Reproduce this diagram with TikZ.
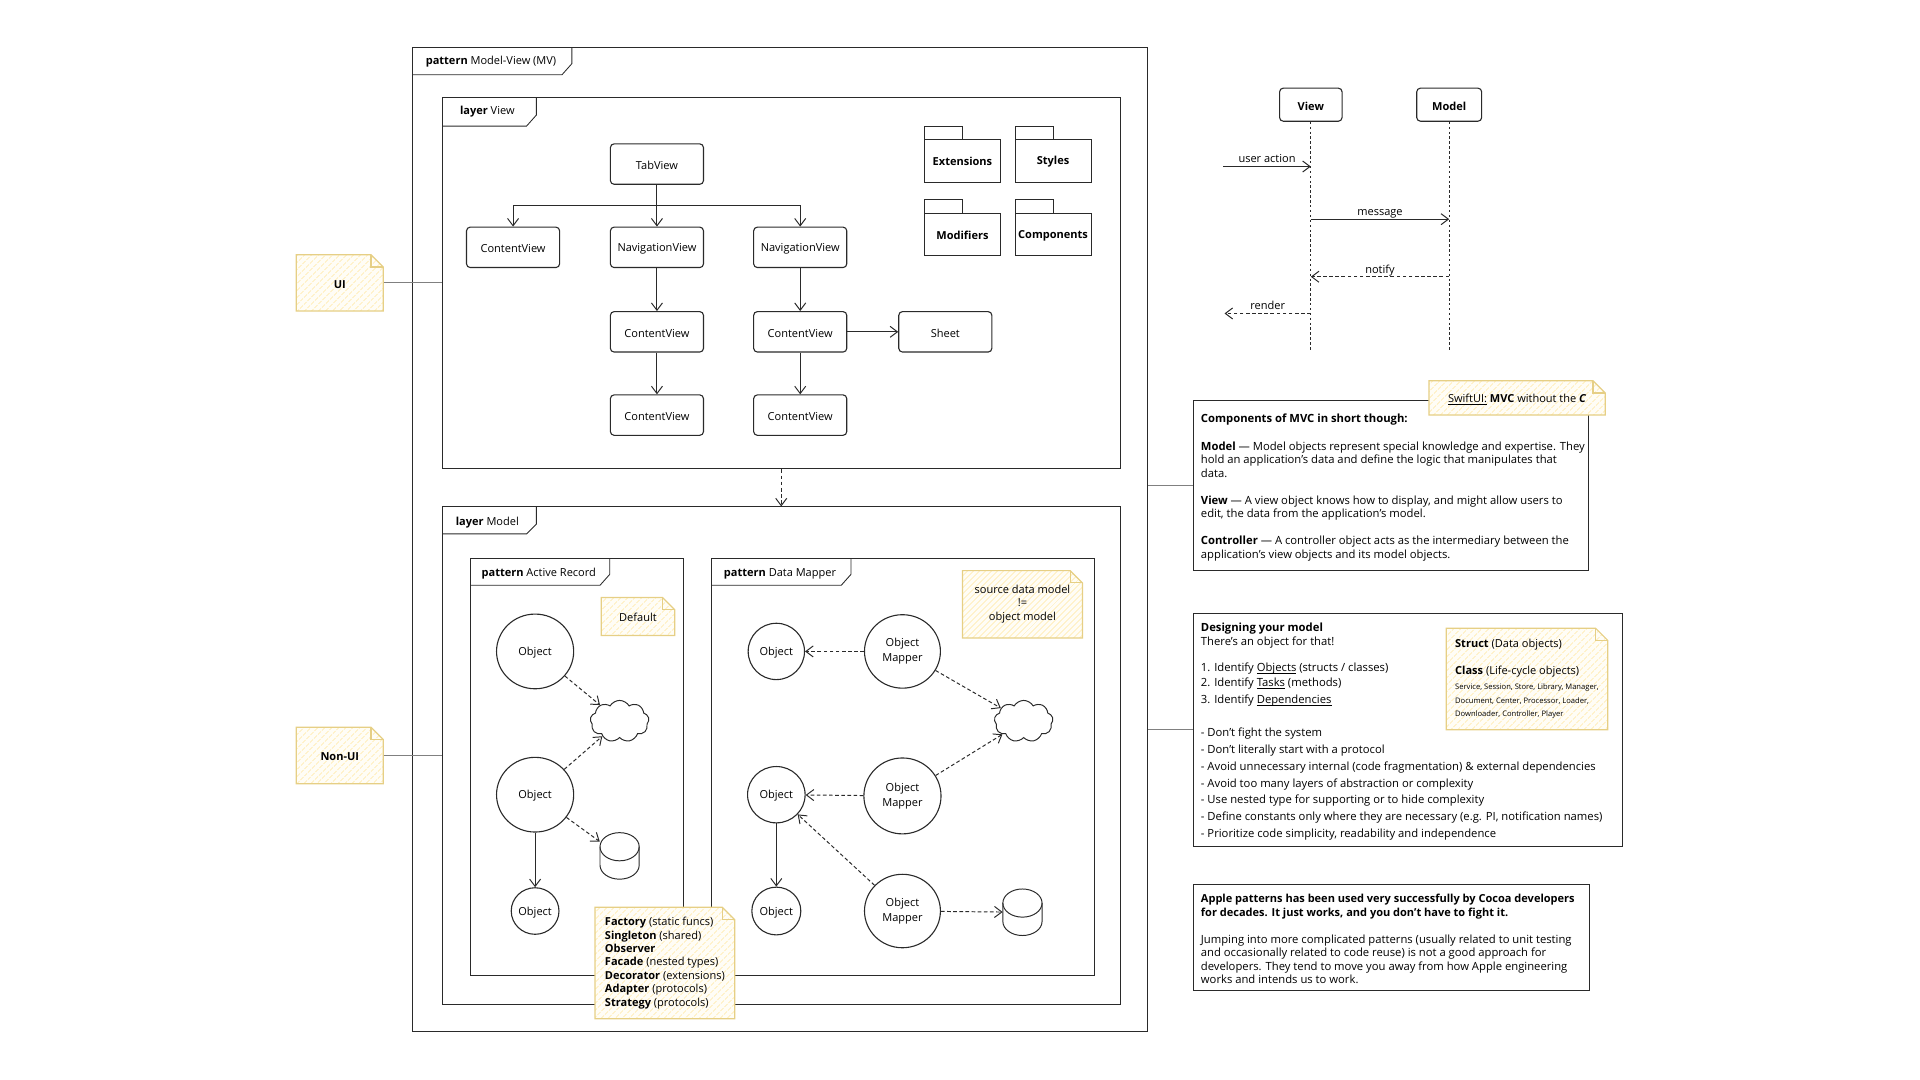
\documentclass[tikz,border=0pt]{standalone}
\usepackage{fontspec}
\setmainfont{Open Sans}
\usetikzlibrary{arrows.meta,calc,patterns.meta,positioning,shapes.geometric,shapes.symbols}
\definecolor{notefill}{HTML}{FFFDF6}
\definecolor{notehatch}{HTML}{FFF2CC}
\definecolor{noteline}{HTML}{E6CF85}
\definecolor{inkline}{HTML}{2A2A2A}
\newcommand\tinyfont{\fontsize{6.2}{10.5}\selectfont}
\newcommand\ulword[1]{\underline{\smash{#1}}}
\newcommand\leadline[1]{{\fontsize{9}{11}\selectfont\textbf{#1}}}
\tikzset{
  basetext/.style={font=\fontsize{9}{11}\selectfont,text=black,execute at begin node={\rule{0pt}{9pt}}},
  frame/.style={draw=inkline,line width=0.8pt,inner sep=0pt},
  framepath/.style={draw=inkline,line width=0.7pt},
  viewbox/.style={draw=inkline,line width=0.9pt,rounded corners=3pt,minimum width=76pt,minimum height=33pt,inner sep=0pt,basetext},
  lifebox/.style={viewbox,font=\fontsize{9}{11}\selectfont\bfseries,minimum height=27pt},
  object/.style={draw=inkline,line width=0.9pt,ellipse,inner sep=0pt,basetext,align=center},
  infocloud/.style={draw=inkline,line width=0.8pt,cloud,cloud puffs=9,cloud puff arc=120,aspect=1.4,minimum width=48pt,minimum height=34pt,inner sep=0pt},
  textbox/.style={draw=inkline,line width=0.9pt,inner sep=0pt},
  longtext/.style={font=\fontsize{9.2}{11}\selectfont,text=black,anchor=west,align=left,inner sep=0pt,yshift=-1.5pt},
  seqlabel/.style={basetext,above=0pt,inner sep=1pt,text depth=1.5pt},
  call/.style={inkline,line width=0.8pt,-{Straight Barb[length=6pt,width=9pt]}},
  depend/.style={call,dash pattern=on 3pt off 2pt},
  link/.style={gray,line width=0.6pt},
  life/.style={inkline,line width=0.8pt,dash pattern=on 2pt off 2pt},
  notepath/.style={draw=noteline,line width=1pt,preaction={fill=notefill},pattern={Lines[angle=45,distance=4pt,line width=1.2pt]},pattern color=notehatch},
  folder/.style={draw=inkline,line width=0.8pt},
  datastore/.style={draw=inkline,line width=0.8pt},
}
\newcommand\stickynote[6]{
\path[notepath] (#2,#3) -- ({#4-10},#3) -- (#4,{#3+10}) -- (#4,#5) -- (#2,#5) -- cycle;
\draw[draw=noteline,line width=1pt] ({#4-10},#3) -- ({#4-10},{#3+10}) -- (#4,{#3+10});
\node[basetext,align=left,inner sep=0pt,minimum width={(#4-#2)*1pt},minimum height={(#5-#3)*1pt}] (#1) at ({(#2+#4)/2},{(#3+#5)/2}) {#6};
}
\newcommand\folderbox[4]{
\draw[folder] (#2,{#3+11}) rectangle ({#2+62},{#3+46});
\draw[folder] (#2,{#3+11}) -- (#2,#3) -- ({#2+31},#3) -- ({#2+31},{#3+11});
\node[basetext,font=\fontsize{9}{11}\selectfont\bfseries,inner sep=0pt] (#1) at ({#2+31},{#3+28}) {#4};
}
\newcommand\datacan[3]{
\node[inner sep=0pt,minimum width=32pt,minimum height=38pt] (#1) at (#2,#3) {};
\draw[datastore] (#2,{#3-7.5}) ellipse [x radius=16pt,y radius=11.5pt];
\draw[datastore] ({#2-16},{#3-7.5}) -- ({#2-16},{#3+7.5}) arc [start angle=180,end angle=360,x radius=16pt,y radius=11.5pt] -- ({#2+16},{#3-7.5});
}
\begin{document}
\begin{tikzpicture}[x=1pt,y=-1pt]
\useasboundingbox (0,0) rectangle (1568,882);
% outer pattern and the two layers
\node[frame,minimum width=600pt,minimum height=803pt] (mvframe) at (637,440.5) {};
\draw[framepath] (337,61) -- (459,61) -- (467,52) -- (467,39);
\node[basetext] (mvtitle) at (401,49) {\textbf{pattern} Model-View (MV)};
\node[frame,minimum width=554pt,minimum height=303pt] (layerview) at (638,231.5) {};
\draw[framepath] (361,103) -- (430,103) -- (438,94) -- (438,80);
\node[basetext] (viewtitle) at (398,90) {\textbf{layer} View};
\node[frame,minimum width=554pt,minimum height=406pt] (layermodel) at (638,617) {};
\draw[framepath] (361,436) -- (430,436) -- (438,428) -- (438,414);
\node[basetext] (modeltitle) at (398,426) {\textbf{layer} Model};
\draw[depend] (layerview.south) -- (layermodel.north);
% view hierarchy
\node[viewbox] (tabview) at (536.5,134) {TabView};
\node[viewbox] (contentA) at (419,202) {ContentView};
\node[viewbox] (navA) at (536.5,202) {NavigationView};
\node[viewbox] (navB) at (653.5,202) {NavigationView};
\node[viewbox] (contentB) at (536.5,271) {ContentView};
\node[viewbox] (contentC) at (653.5,271) {ContentView};
\node[viewbox] (sheet) at (772,271) {Sheet};
\node[viewbox] (contentD) at (536.5,339) {ContentView};
\node[viewbox] (contentE) at (653.5,339) {ContentView};
\coordinate (tabsplit) at (536.5,168);
\draw[call] (tabview) -- (navA);
\draw[call] (tabsplit) -| (contentA);
\draw[call] (tabsplit) -| (navB);
\draw[call] (navA) -- (contentB);
\draw[call] (navB) -- (contentC);
\draw[call] (contentC) -- (sheet);
\draw[call] (contentB) -- (contentD);
\draw[call] (contentC) -- (contentE);
\folderbox{extensions}{755}{103}{Extensions}
\folderbox{styles}{829}{103}{Styles}
\folderbox{modifiers}{755}{163}{Modifiers}
\folderbox{components}{829}{163}{Components}
% active record
\node[frame,minimum width=174pt,minimum height=341pt] (activerecord) at (471,626.5) {};
\draw[framepath] (384,478) -- (490,478) -- (498,469) -- (498,456);
\node[basetext] (activetitle) at (440,467) {\textbf{pattern} Active Record};
\node[object,minimum width=63pt,minimum height=61pt] (arobjA) at (437,532) {Object};
\node[object,minimum width=63pt,minimum height=61pt] (arobjB) at (437,649) {Object};
\node[object,minimum width=39pt,minimum height=38pt] (arobjC) at (437,744) {Object};
\node[infocloud] (arcloud) at (506,589) {};
\datacan{arstore}{506}{699}
\draw[depend] (arobjA) -- (arcloud);
\draw[depend] (arobjB) -- (arcloud);
\draw[depend] (arobjB) -- (arstore);
\draw[call] (arobjB) -- (arobjC);
% data mapper
\node[frame,minimum width=313pt,minimum height=341pt] (datamapper) at (737.5,626.5) {};
\draw[framepath] (581,478) -- (687,478) -- (695,469) -- (695,456);
\node[basetext] (mappertitle) at (637,467) {\textbf{pattern} Data Mapper};
\node[object,minimum width=46pt,minimum height=46pt] (dmobjA) at (634,532) {Object};
\node[object,minimum width=47pt,minimum height=46pt] (dmobjB) at (634,649) {Object};
\node[object,minimum width=40pt,minimum height=39pt] (dmobjC) at (634,744) {Object};
\node[object,minimum width=62pt,minimum height=60pt] (mapperA) at (737,532) {Object\\[1pt]Mapper};
\node[object,minimum width=63pt,minimum height=62pt] (mapperB) at (737,650) {Object\\[1pt]Mapper};
\node[object,minimum width=62pt,minimum height=60pt] (mapperC) at (737,744) {Object\\[1pt]Mapper};
\node[infocloud] (dmcloud) at (836,589) {};
\datacan{dmstore}{835}{745}
\draw[depend] (mapperA) -- (dmobjA);
\draw[depend] (mapperA) -- (dmcloud);
\draw[depend] (mapperB) -- (dmcloud);
\draw[depend] (mapperB) -- (dmobjB);
\draw[depend] (mapperC) -- (dmobjB);
\draw[call] (dmobjB) -- (dmobjC);
\draw[depend] (mapperC) -- (dmstore);
% notes
\stickynote{uinote}{242}{208}{313}{254}{\textbf{UI}}
\stickynote{nonuinote}{242}{594}{313}{640}{\textbf{Non-UI}}
\draw[link] (uinote.east) -- (uinote.east -| layerview.west);
\draw[link] (nonuinote.east) -- (nonuinote.east -| layermodel.west);
\stickynote{defaultnote}{491}{488}{551}{519}{Default}
\stickynote{sourcenote}{786}{466}{884}{521}{\raisebox{-2pt}{\begin{tabular}{@{}c@{}}source data model\\!=\\object model\end{tabular}}}
\stickynote{catalognote}{486}{741}{600}{832}{\textbf{Factory} (static funcs)\\\textbf{Singleton} (shared)\\\textbf{Observer}\\\textbf{Facade} (nested types)\\\textbf{Decorator} (extensions)\\\textbf{Adapter} (protocols)\\\textbf{Strategy} (protocols)}
% sequence
\node[lifebox,minimum width=51pt] (seqview) at (1070.5,85.5) {View};
\node[lifebox,minimum width=53pt] (seqmodel) at (1183.5,85.5) {Model};
\coordinate (viewend) at (1070.5,287);
\coordinate (modelend) at (1183.5,287);
\draw[life] (seqview) -- (viewend);
\draw[life] (seqmodel) -- (modelend);
\coordinate (actionstart) at (999,136);
\coordinate (actionend) at (1070.5,136);
\coordinate (messagestart) at (1070.5,179);
\coordinate (messageend) at (1183.5,179);
\coordinate (notifystart) at (1183.5,226);
\coordinate (notifyend) at (1070.5,226);
\coordinate (renderstart) at (1070.5,256);
\coordinate (renderend) at (1000,256);
\draw[call] (actionstart) -- node[seqlabel] (actionlabel) {user action} (actionend);
\draw[call] (messagestart) -- node[seqlabel] (messagelabel) {message} (messageend);
\draw[depend] (notifystart) -- node[seqlabel] (notifylabel) {notify} (notifyend);
\draw[depend] (renderstart) -- node[seqlabel] (renderlabel) {render} (renderend);
% text boxes
\node[textbox,minimum width=322pt,minimum height=139pt] (infobox) at (1136,396.5) {};
\node[longtext,right=6pt of infobox.west] (infotext) {\textbf{Components of MVC in short though:}\\[12pt]
\textbf{Model} — Model objects represent special knowledge and expertise. They\\
hold an application's data and define the logic that manipulates that\\
data.\\[11pt]
\textbf{View} — A view object knows how to display, and might allow users to\\
edit, the data from the application's model.\\[11pt]
\textbf{Controller} — A controller object acts as the intermediary between the\\
application's view objects and its model objects.};
\stickynote{swiftnote}{1167}{311}{1311}{339}{\ulword{SwiftUI:} \textbf{MVC} without the \textbf{\textit{C}}}
\draw[link] (infobox.west -| mvframe.east) -- (infobox.west);
\node[textbox,minimum width=350pt,minimum height=190pt] (designbox) at (1150,596) {};
\node[longtext,right=6pt of designbox.west] (designtext) {\textbf{Designing your model}\\
There's an object for that!\\[11pt]
1. Identify \ulword{Objects} (structs / classes)\\[1pt]
2. Identify \ulword{Tasks} (methods)\\[3pt]
3. Identify \ulword{Dependencies}\\[16pt]
- Don't fight the system\\[2.7pt]
- Don't literally start with a protocol\\[2.7pt]
- Avoid unnecessary internal (code fragmentation) \& external dependencies\\[2.7pt]
- Avoid too many layers of abstraction or complexity\\[2.7pt]
- Use nested type for supporting or to hide complexity\\[2.7pt]
- Define constants only where they are necessary (e.g. PI, notification names)\\[2.7pt]
- Prioritize code simplicity, readability and independence};
\stickynote{typenote}{1181}{513}{1313}{596}{\textbf{Struct} (Data objects)\\[11pt]
\textbf{Class} (Life-cycle objects)\\[1pt]
\tinyfont Service, Session, Store, Library, Manager,\\
\tinyfont Document, Center, Processor, Loader,\\
\tinyfont Downloader, Controller, Player}
\draw[link] (designbox.west -| mvframe.east) -- (designbox.west);
\node[textbox,minimum width=323pt,minimum height=87pt] (applebox) at (1136.5,765.5) {};
\node[longtext,right=6pt of applebox.west] (appletext) {\leadline{Apple patterns has been used very successfully by Cocoa developers}\\
\leadline{for decades. It just works, and you don't have to fight it.}\\[11pt]
Jumping into more complicated patterns (usually related to unit testing\\
and occasionally related to code reuse) is not a good approach for\\
developers. They tend to move you away from how Apple engineering\\
works and intends us to work.};
\end{tikzpicture}
\end{document}
